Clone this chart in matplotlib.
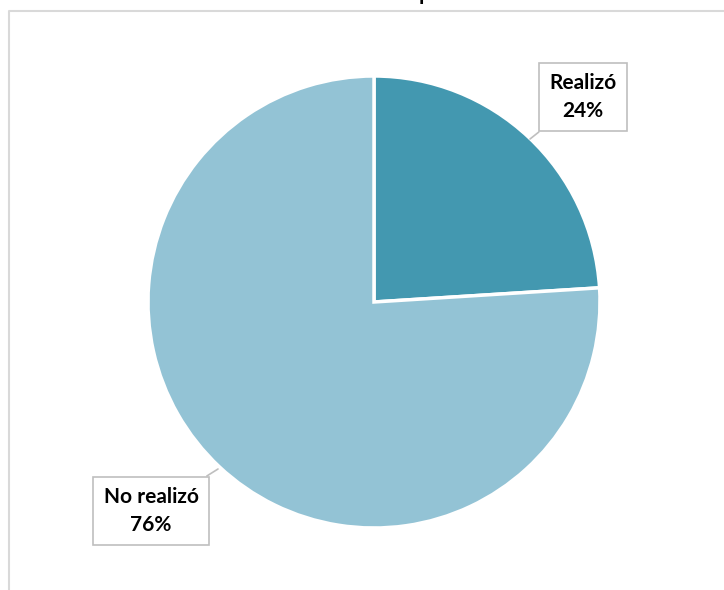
import matplotlib.pyplot as plt
from matplotlib.lines import Line2D

# Data
labels = ["Realizó", "No realizó"]
shares = [24, 76]
colors = ["#4398b0", "#93c3d5"]

W, H = 724, 590
fig = plt.figure(figsize=(W / 100, H / 100), dpi=100)
ax = fig.add_axes([0, 0, 1, 1])

plt.rcParams['font.family'] = ['Lato', 'DejaVu Sans']

cx, cy, r = 374, H - 302, 226
wedges, _ = ax.pie(shares, colors=colors, startangle=90, counterclock=False,
                   center=(cx, cy), radius=r,
                   wedgeprops=dict(edgecolor="white", linewidth=2.5))

ax.set_xlim(0, W)
ax.set_ylim(0, H)
ax.set_aspect("equal")
ax.axis("off")

# chart area border (partly cropped)
ax.add_line(Line2D([9, 9, W + 5], [-5, H - 11, H - 11], color="#d9d9d9", lw=1.5))

# title, mostly cut off at top
ax.text(W / 2, H - 0.5, "Gráfico N° 5: Realización de análisis de empresas estudiadas – Año 2022",
        ha="center", va="baseline", fontsize=15, fontweight="bold", color="black")

# callout labels
box = dict(boxstyle="square,pad=0.5", fc="white", ec="#bfbfbf", lw=1.2)
line = dict(arrowstyle="-", color="#bfbfbf", lw=1.2, shrinkA=0, shrinkB=0)
ax.annotate(f"{labels[0]}\n{shares[0]}%", xy=(530, H - 139), xytext=(583, H - 97),
            ha="center", va="center", fontsize=15, fontweight="bold",
            linespacing=1.5, bbox=box, arrowprops=line)
ax.annotate(f"{labels[1]}\n{shares[1]}%", xy=(218, H - 469), xytext=(151, H - 511),
            ha="center", va="center", fontsize=15, fontweight="bold",
            linespacing=1.5, bbox=box, arrowprops=line)

plt.savefig("out.png", dpi=100)
